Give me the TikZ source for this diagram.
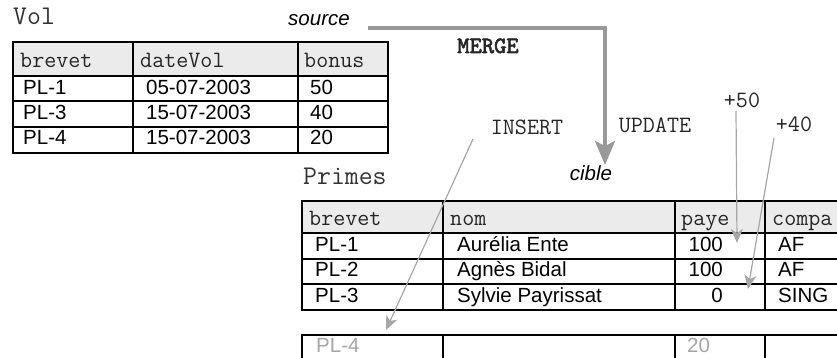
\documentclass[tikz,border=0pt]{standalone}
\usepackage{fontspec}
\setmainfont{Liberation Sans}
\newfontfamily\ttgras[FakeBold=2.5]{lmmono10-regular.otf}
\usetikzlibrary{arrows.meta}
\tikzset{
  grille/.style={line width=2pt},
  titre/.style={anchor=base west, inner sep=0, text=black!80, font=\fontsize{27}{30}\selectfont\ttfamily},
  col/.style={anchor=base west, inner sep=0, text=black!85, font=\fontsize{23.4}{26}\selectfont\ttfamily},
  val/.style={anchor=base west, inner sep=0, font=\fontsize{20.5}{24}\selectfont},
  ajout/.style={val, text=black!35},
  ordre/.style={anchor=base, inner sep=0, text=black!85, font=\fontsize{23.4}{26}\selectfont\ttfamily},
  role/.style={anchor=base, inner sep=0, font=\fontsize{20.5}{24}\selectfont\itshape},
  merge/.style={draw=black!40, line width=3.5pt, -{Stealth[length=24pt,width=20pt,inset=5pt]}},
  fleche/.style={draw=black!35, line width=1.2pt, -{Stealth[length=14pt,width=12pt,inset=4pt]}}
}
\begin{document}
\begin{tikzpicture}[x=1pt,y=-1pt]
\useasboundingbox (0,0) rectangle (837,358);
\clip (0,0) rectangle (837,358);
% table Vol
\node[titre] (vol) at (13,25) {Vol};
\fill[black!8] (13,42) rectangle (388,76);
\draw[grille] (13,42) rectangle (388,153);
\foreach \y in {76,101,127} \draw[grille] (13,\y) -- (388,\y);
\foreach \x in {133,298} \draw[grille] (\x,42) -- (\x,153);
\node[col] (v-brevet) at (20,68) {brevet};
\node[col] (v-date) at (140,68) {dateVol};
\node[col] (v-bonus) at (304,68) {bonus};
\foreach \b/\d/\n [count=\i] in {PL-1/05-07-2003/50, PL-3/15-07-2003/40, PL-4/15-07-2003/20} {
  \pgfmathsetmacro{\yb}{95+25*(\i-1)}
  \node[val] (v-b\i) at (23,\yb) {\b};
  \node[val] (v-d\i) at (146,\yb) {\d};
  \node[val] (v-n\i) at (310,\yb) {\n};
}
% table Primes
\node[titre] (primes) at (303,185) {Primes};
\fill[black!8] (302,201) rectangle (850,233);
\draw[grille] (850,201) -- (302,201) -- (302,310) -- (850,310);
\foreach \y in {233,259,284} \draw[grille] (302,\y) -- (850,\y);
\foreach \x in {443,675,765} \draw[grille] (\x,201) -- (\x,310);
\node[col] (p-brevet) at (309,225) {brevet};
\node[col] (p-nom) at (450,225) {nom};
\node[col] (p-paye) at (681,225) {paye};
\node[col] (p-compa) at (772,225) {compa};
\foreach \b/\n/\p/\c [count=\i] in {PL-1/Aurélia Ente/100/AF, PL-2/Agnès Bidal/100/AF, PL-3/Sylvie Payrissat/0/SING} {
  \pgfmathsetmacro{\yb}{251+25.5*(\i-1)}
  \node[val] (p-b\i) at (315,\yb) {\b};
  \node[val] (p-n\i) at (457,\yb) {\n};
  \node[val, anchor=base east] (p-p\i) at (723,\yb) {\p};
  \node[val] (p-c\i) at (778,\yb) {\c};
}
% ligne inseree
\draw[grille] (850,335) -- (302,335) -- (302,370);
\foreach \x in {443,675,765} \draw[grille] (\x,335) -- (\x,370);
\node[ajout] (p-b4) at (316,352) {PL-4};
\node[ajout] (p-p4) at (687,352) {20};
% MERGE
\node[role] (source) at (319,26) {source};
\node[role] (cible) at (591,180) {cible};
\node[ordre, font=\fontsize{23.4}{26}\selectfont\ttgras] (merge) at (488,53) {MERGE};
\node[ordre] (insert) at (527,135) {INSERT};
\node[ordre] (update) at (655,133) {UPDATE};
\node[ordre] (plus50) at (742,108) {+50};
\node[ordre] (plus40) at (794,132) {+40};
\coordinate (src) at (368,28);
\coordinate (tgt) at (605,165);
\draw[merge] (src) -| (tgt);
\coordinate (ins-a) at (473,139);
\coordinate (ins-b) at (386,330);
\draw[fleche] (ins-a) -- (ins-b);
\coordinate (up50-a) at (736,111);
\coordinate (up50-b) at (737,243);
\draw[fleche] (up50-a) -- (up50-b);
\coordinate (up40-a) at (774,138);
\coordinate (up40-b) at (748,289);
\draw[fleche] (up40-a) -- (up40-b);
\end{tikzpicture}
\end{document}
